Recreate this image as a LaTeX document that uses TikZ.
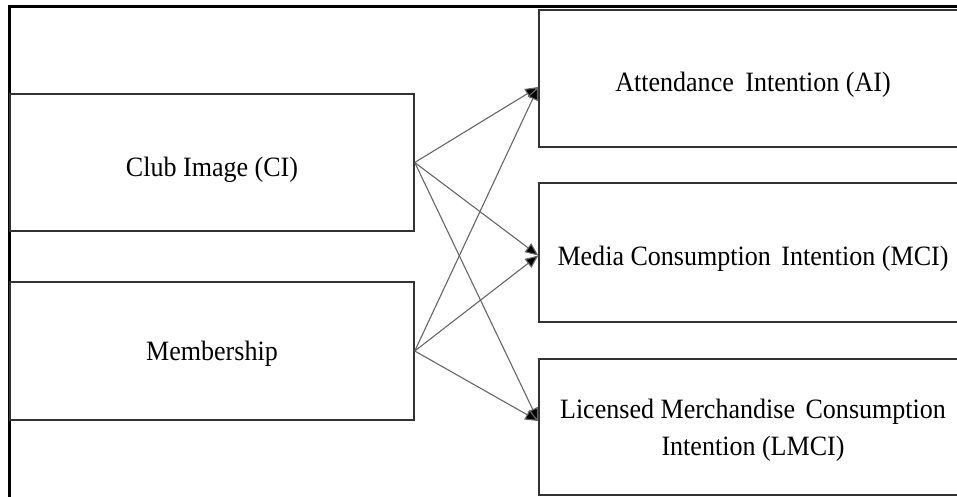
\documentclass[tikz,border=0pt]{standalone}
\usepackage{fontspec}
\setmainfont{Liberation Serif}[FakeStretch=0.93]
\usetikzlibrary{arrows.meta}

\begin{document}
\begin{tikzpicture}[x=1pt, y=-1pt,
  box/.style={draw=black!80, line width=1.5pt, inner sep=0pt},
  txt/.style={inner sep=0pt, align=center, font=\fontsize{28}{37}\selectfont},
  link/.style={draw=black!60, line width=1.1pt, -{Triangle[length=13pt,width=11pt,fill=black]}}]

% Clip to the page
\clip (0,0) rectangle (957,497);

% Outer frame
\draw[line width=3pt] (9,520) |- (990,7);

% Left boxes
\node[box, minimum width=404pt, minimum height=137pt] (ci) at (212,162.5) {};
\node[box, minimum width=404pt, minimum height=138pt] (mem) at (212,351) {};

% Right boxes (cut off by the page edge)
\node[box, minimum width=428pt, minimum height=137pt] (ai) at (753,78.5) {};
\node[box, minimum width=428pt, minimum height=139pt] (mci) at (753,252.5) {};
\node[box, minimum width=428pt, minimum height=136pt] (lmci) at (753,427) {};

% Box texts
\node[txt, anchor=base] (ci text) at (212,176) {Club Image (CI)};
\node[txt, anchor=base] (mem text) at (212,360) {Membership};
\node[txt, anchor=base] (ai text) at (753,91.5) {Attendance\hspace{5pt} Intention (AI)};
\node[txt, anchor=base] (mci text) at (753,265) {Media Consumption\hspace{4pt} Intention (MCI)};
\node[txt] (lmci text) at (753,430.5) {Licensed Merchandise\hspace{4pt} Consumption\\Intention (LMCI)};

% Paths
\draw[link] (ci.east) -- ([yshift=-8.5pt]ai.west);
\draw[link] (ci.east) -- ([yshift=-3pt]mci.west);
\draw[link] (ci.east) -- ([yshift=6pt]lmci.west);
\draw[link] (mem.east) -- ([yshift=-8.5pt]ai.west);
\draw[link] (mem.east) -- ([yshift=-3pt]mci.west);
\draw[link] (mem.east) -- ([yshift=6pt]lmci.west);

\end{tikzpicture}
\end{document}
